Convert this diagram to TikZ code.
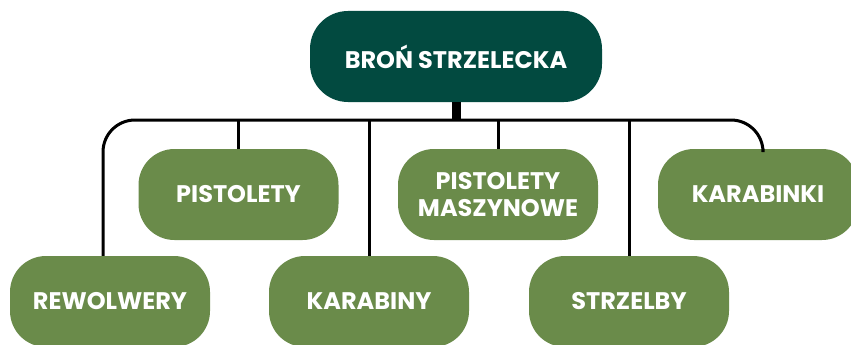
\documentclass[tikz,border=0pt]{standalone}
\usepackage{fontspec}
\setmainfont{Poppins}[UprightFont=* Bold]
\definecolor{rootgreen}{HTML}{024A40}
\definecolor{leafgreen}{HTML}{6A8B4A}
\begin{document}
\begin{tikzpicture}[x=1pt,y=-1pt,
  box/.style={rectangle, rounded corners=36pt, minimum width=200pt, minimum height=91pt,
    fill=leafgreen, text=white, align=center, inner sep=0pt,
    font=\fontsize{24}{27}\selectfont},
  rootbox/.style={box, fill=rootgreen, minimum width=292pt, rounded corners=38pt},
  conn/.style={draw=black, line width=3pt}]
\path[use as bounding box] (0,0) rectangle (851,345);
\node[rootbox] (root) at (456,56.5) {BROŃ STRZELECKA};
\node[box] (pis) at (238.5,194.5) {PISTOLETY};
\node[box] (pm) at (498,194.5) {PISTOLETY\\MASZYNOWE};
\node[box] (kbk) at (758,194.5) {KARABINKI};
\node[box] (rew) at (110,301.5) {REWOLWERY};
\node[box] (kar) at (369,301.5) {KARABINY};
\node[box] (str) at (629,301.5) {STRZELBY};
\coordinate (bus) at (456,120);
\draw[conn, rounded corners=32pt] ([xshift=-7pt]rew.north) |- (bus) -| ([xshift=5pt]kbk.north);
\draw[conn] (pis.north) -- (pis.north |- bus);
\draw[conn] (pm.north) -- (pm.north |- bus);
\draw[conn] (kar.north) -- (kar.north |- bus);
\draw[conn] (str.north) -- (str.north |- bus);
\draw[line width=9pt] (root.south) -- ([yshift=-1pt]bus);
\end{tikzpicture}
\end{document}
